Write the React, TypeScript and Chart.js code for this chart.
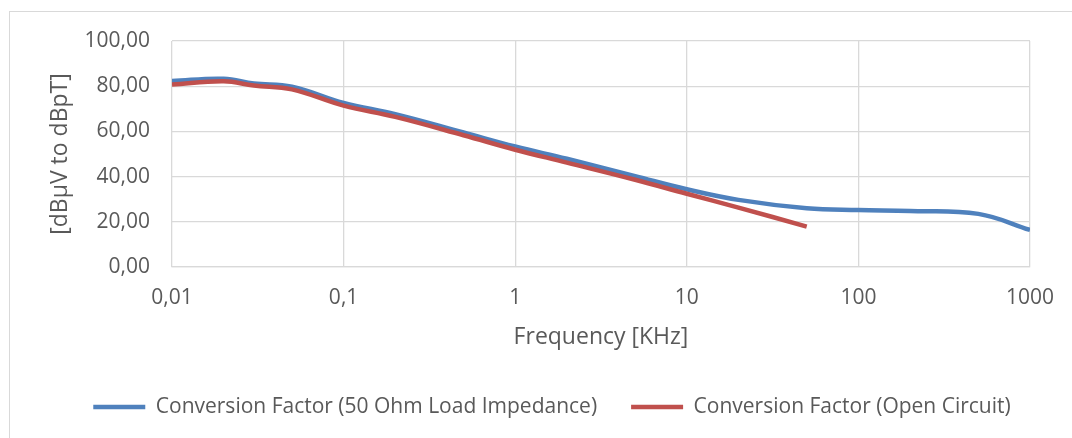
import React, { useEffect, useRef } from 'react';
import { Chart, registerables } from 'chart.js';

Chart.register(...registerables);

const freqBlue = [0.01, 0.02, 0.03, 0.05, 0.1, 0.2, 0.5, 1, 2, 5, 10, 20, 50, 100, 200, 500, 1000];
const blueValues = [82.3, 83.3, 81.2, 79.8, 72.6, 67.6, 59.5, 53.3, 47.9, 40.2, 34.4, 29.7, 26.0, 25.2, 24.8, 23.5, 16.4];

const freqRed = [0.01, 0.02, 0.03, 0.05, 0.1, 0.2, 0.5, 1, 2, 5, 10, 20, 50];
const redValues = [80.7, 82.2, 80.3, 78.6, 71.4, 66.4, 58.3, 51.9, 46.2, 38.6, 32.4, 26.3, 17.9];

const xTickValues = [0.01, 0.1, 1, 10, 100, 1000];
const xTickLabels = ['0,01', '0,1', '1', '10', '100', '1000'];

const seriesNames = ['Conversion Factor (50 Ohm Load Impedance)', 'Conversion Factor (Open Circuit)'];
const seriesColors = ['#4F81BD', '#C0504D'];

const TEXT = '#595959';
const GRID = '#D9D9D9';

export default function App() {
  const ref = useRef<HTMLCanvasElement>(null);

  useEffect(() => {
    if (!ref.current) return;
    Chart.defaults.font.family = "'Open Sans', sans-serif";
    const chart = new Chart(ref.current, {
      type: 'line',
      data: {
        datasets: [
          {
            label: seriesNames[0],
            data: freqBlue.map((f, i) => ({ x: f, y: blueValues[i] })),
            borderColor: seriesColors[0],
            backgroundColor: seriesColors[0],
            borderWidth: 4.5,
            pointRadius: 0,
            tension: 0.4,
            fill: false,
            order: 1,
          },
          {
            label: seriesNames[1],
            data: freqRed.map((f, i) => ({ x: f, y: redValues[i] })),
            borderColor: seriesColors[1],
            backgroundColor: seriesColors[1],
            borderWidth: 4.5,
            pointRadius: 0,
            tension: 0.4,
            fill: false,
            order: 0,
          },
        ],
      },
      options: {
        animation: false,
        responsive: false,
        layout: { padding: { left: 32, right: 0, top: 41, bottom: 10.5 } },
        plugins: {
          tooltip: { enabled: false },
          legend: {
            position: 'bottom',
            labels: {
              boxWidth: 52,
              boxHeight: 4.5,
              padding: 34,
              color: TEXT,
              font: { size: 21 },
              sort: (a: any, b: any) => a.datasetIndex - b.datasetIndex,
              generateLabels: (c: any) => {
                const items = Chart.defaults.plugins.legend.labels.generateLabels(c);
                return items.map((it: any) => ({
                  ...it,
                  fillStyle: seriesColors[it.datasetIndex],
                  strokeStyle: seriesColors[it.datasetIndex],
                  lineWidth: 0,
                }));
              },
            },
          },
        },
        scales: {
          x: {
            type: 'logarithmic',
            min: 0.01,
            max: 1000,
            afterBuildTicks: (scale: any) => {
              scale.ticks = xTickValues.map((v) => ({ value: v }));
            },
            afterFit: (scale: any) => {
              scale.height = 95.5;
            },
            grid: { color: GRID, lineWidth: 1.3, drawTicks: false },
            border: { color: GRID, width: 1.3 },
            ticks: {
              padding: 18,
              color: TEXT,
              font: { size: 21 },
              autoSkip: false,
              maxRotation: 0,
              callback: (value: any) => {
                const i = xTickValues.findIndex((v) => Math.abs(Math.log10(v) - Math.log10(Number(value))) < 1e-6);
                return i >= 0 ? xTickLabels[i] : '';
              },
            },
            title: {
              display: true,
              text: 'Frequency [KHz]',
              color: TEXT,
              font: { size: 23 },
              padding: { top: 0, bottom: 11.7 },
            },
          },
          y: {
            type: 'linear',
            min: 0,
            max: 100,
            afterFit: (scale: any) => {
              scale.width = 140;
            },
            grid: { color: GRID, lineWidth: 1.3, drawTicks: false },
            border: { display: false },
            ticks: {
              stepSize: 20,
              padding: 22,
              color: TEXT,
              font: { size: 21 },
              callback: (value: any) => Number(value).toFixed(2).replace('.', ','),
            },
            title: {
              display: true,
              text: '[dBµV to dBpT]',
              color: TEXT,
              font: { size: 23 },
              padding: { top: 14.2, bottom: 0 },
            },
          },
          y2: {
            type: 'linear',
            position: 'right',
            display: true,
            grid: { display: false },
            border: { display: false },
            ticks: { display: false },
            afterFit: (scale: any) => {
              scale.width = 41;
            },
          },
        },
      },
    } as any);
    return () => chart.destroy();
  }, []);

  return (
    <div style={{ position: 'fixed', left: 0, top: 0, width: 1072, height: 438, background: '#fff', overflow: 'hidden' }}>
      <div
        style={{
          position: 'absolute',
          left: 9,
          top: 11,
          width: 1100,
          height: 500,
          border: '1px solid #D9D9D9',
          boxSizing: 'border-box',
        }}
      />
      <canvas ref={ref} width={1072} height={438} style={{ position: 'absolute', left: 0, top: 0 }} />
    </div>
  );
}
